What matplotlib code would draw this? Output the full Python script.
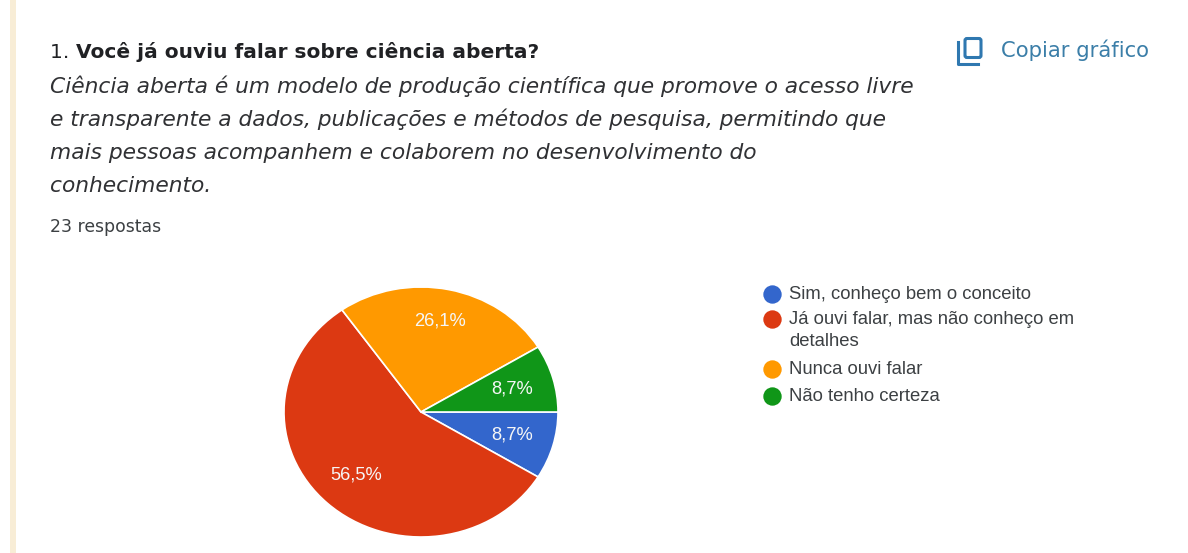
#!/usr/bin/env python3

import matplotlib
matplotlib.use('Agg')
import matplotlib.pyplot as plt
from matplotlib.patches import FancyBboxPatch, Rectangle

W, H = 1188, 553

question = "Você já ouviu falar sobre ciência aberta?"
description = [
    "Ciência aberta é um modelo de produção científica que promove o acesso livre",
    "e transparente a dados, publicações e métodos de pesquisa, permitindo que",
    "mais pessoas acompanhem e colaborem no desenvolvimento do",
    "conhecimento.",
]
answers = "23 respostas"

categories = ["Sim, conheço bem o conceito",
              "Já ouvi falar, mas não conheço em\ndetalhes",
              "Nunca ouvi falar",
              "Não tenho certeza"]
counts = [2, 13, 6, 2]
pie_colors = ['#3366cc', '#dc3912', '#ff9900', '#109618']


def pct_label(p):
    return f"{p:.1f}%".replace('.', ',')


fig = plt.figure(figsize=(W / 100, H / 100), dpi=100, facecolor='white')

# overlay in pixel coordinates for the page furniture
page = fig.add_axes([0, 0, 1, 1])
page.set_xlim(0, W)
page.set_ylim(H, 0)
page.axis('off')

page.add_patch(Rectangle((10, 0), 6, H, color='#f8edd6', lw=0))

# the screenshot is stretched sideways, DejaVu is the closest in width
first = page.text(50, 58, "1. ", family='DejaVu Sans', fontsize=14.5, color='#202124', va='baseline')
page.annotate(question, xy=(1, 0), xycoords=first, va='bottom', family='DejaVu Sans',
              fontsize=14.5, fontweight='bold', color='#202124')

for i, line in enumerate(description):
    page.text(50, 93 + i * 33, line, family='DejaVu Sans', style='italic', fontsize=15.65,
              color='#303134', va='baseline')
page.text(50, 232, answers, family='DejaVu Sans', fontsize=12.4, color='#3c4043', va='baseline')

# copy icon and button text
page.add_patch(FancyBboxPatch((965, 38.5), 16, 19, boxstyle='round,pad=0,rounding_size=2',
                              fill=False, ec='#2f78b0', lw=2.2))
page.plot([958, 958, 978], [42, 63.5, 63.5], color='#2f78b0', lw=2.2)
page.text(1001, 57, "Copiar gráfico", family='DejaVu Sans', fontsize=15.2,
          color='#3b7ea8', va='baseline')

# pie is slightly stretched horizontally, so the axes is not square
ax = fig.add_axes([284 / W, 1 - 537 / H, 274 / W, 250 / H])
wedges, _, pct_texts = ax.pie(counts, colors=pie_colors, startangle=0, counterclock=False,
                              radius=1, autopct=pct_label, pctdistance=0.69,
                              wedgeprops={'edgecolor': 'white', 'linewidth': 1.2},
                              textprops={'color': '#f6f6f6', 'family': 'Liberation Sans', 'fontsize': 13.2})
ax.set_aspect('auto')
ax.set_xlim(-1, 1)
ax.set_ylim(-1, 1)

# orange label sits a bit higher than the others
x, y = pct_texts[2].get_position()
pct_texts[2].set_position((x, y + 0.055))

# legend, drawn by hand since the wrapped row changes the spacing
legend_y = [294, 319, 369, 396]
for y, name, color in zip(legend_y, categories, pie_colors):
    page.scatter([772], [y], s=175, color=color, lw=0, zorder=3)
    page.text(789, y - 8, name, family='Liberation Sans', fontsize=13.3, color='#3c4043',
              va='top', linespacing=1.4)

fig.savefig('out.png', dpi=100)
